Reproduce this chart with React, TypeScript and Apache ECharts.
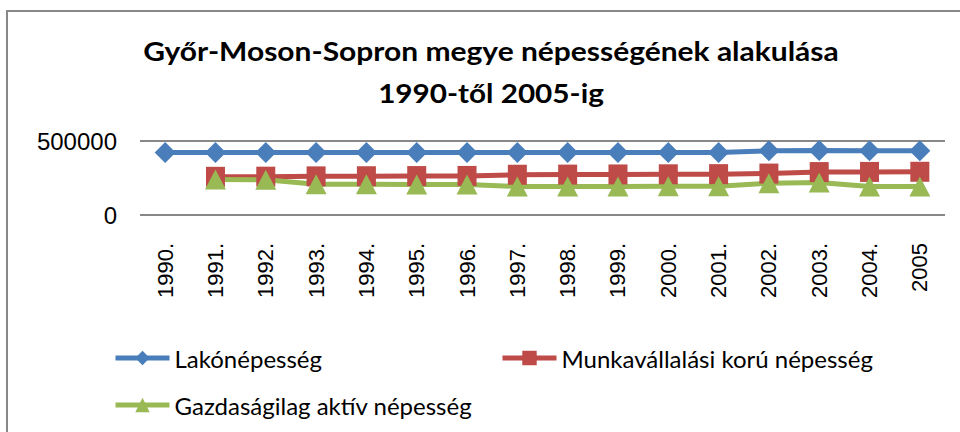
import React, { useEffect, useRef } from "react";
import * as echarts from "echarts";

const categories = ["1990.", "1991.", "1992.", "1993.", "1994.", "1995.", "1996.", "1997.", "1998.", "1999.", "2000.", "2001.", "2002.", "2003.", "2004.", "2005"];
const lakonepesseg = [422000, 422000, 422000, 422000, 422000, 422000, 422000, 422000, 422000, 422000, 422000, 422000, 434000, 435000, 434000, 434000];
const munkavallalasi = [null, 258000, 259000, 261000, 262000, 263000, 264000, 272000, 273000, 274000, 275000, 276000, 280000, 290000, 291000, 292000];
const gazdasagilag = [null, 240000, 238000, 208000, 207000, 206000, 206000, 193000, 192000, 193000, 194000, 194000, 215000, 220000, 193000, 193000];
const seriesNames = ["Lakónépesség", "Munkavállalási korú népesség", "Gazdaságilag aktív népesség"];
const yTicks = [0, 500000];
const titleLines = ["Győr-Moson-Sopron megye népességének alakulása", "1990-től 2005-ig"];

export default function App() {
  const ref = useRef<HTMLDivElement>(null);
  useEffect(() => {
    if (!ref.current) return;
    const chart = echarts.init(ref.current, null, { renderer: "svg" });
    const legendText = { fontFamily: "Lato", fontSize: 24, color: "#000" };
    const legendCommon = { itemWidth: 54, itemHeight: 18, itemGap: 6, textStyle: legendText, lineStyle: { width: 5 } };
    chart.setOption({
      animation: false,
      backgroundColor: "#fff",
      graphic: [
        { type: "rect", shape: { x: 7, y: 11, width: 1000, height: 1000 }, style: { fill: "none", stroke: "#888", lineWidth: 2 }, silent: true },
        { type: "text", x: 491, y: 51, scaleX: 1.11, style: { text: titleLines[0], font: "bold 27px Lato", fill: "#000", textAlign: "center", textVerticalAlign: "middle" } },
        { type: "text", x: 491, y: 93, scaleX: 1.1, style: { text: titleLines[1], font: "bold 27px Lato", fill: "#000", textAlign: "center", textVerticalAlign: "middle" } },
      ],
      grid: { left: 140, right: 15, top: 141, bottom: 217, containLabel: false },
      xAxis: {
        type: "category",
        data: categories,
        boundaryGap: true,
        axisLine: { show: false },
        axisTick: { show: false },
        axisLabel: { rotate: 90, margin: 28, fontFamily: "Liberation Sans", fontSize: 22, color: "#000" },
      },
      yAxis: {
        type: "value",
        min: yTicks[0],
        max: yTicks[1],
        interval: yTicks[1] - yTicks[0],
        axisLine: { show: false },
        axisTick: { show: false },
        splitLine: { lineStyle: { color: "#888", width: 2 } },
        axisLabel: { margin: 23, fontFamily: "Liberation Sans", fontSize: 24, color: "#000", formatter: (v: number) => String(v) },
      },
      legend: [
        { ...legendCommon, data: [seriesNames[0]], left: 108, top: 341 },
        { ...legendCommon, data: [seriesNames[1]], left: 495, top: 341 },
        { ...legendCommon, data: [seriesNames[2]], left: 108, top: 388 },
      ],
      series: [
        { name: seriesNames[0], type: "line", data: lakonepesseg, symbol: "diamond", symbolSize: 21, lineStyle: { width: 5, color: "#4A7EBB" }, itemStyle: { color: "#4A7EBB" } },
        { name: seriesNames[1], type: "line", data: munkavallalasi, symbol: "rect", symbolSize: [19, 20], lineStyle: { width: 5, color: "#BE4B48" }, itemStyle: { color: "#BE4B48" } },
        { name: seriesNames[2], type: "line", data: gazdasagilag, symbol: "triangle", symbolSize: [21, 20], lineStyle: { width: 5, color: "#98B954" }, itemStyle: { color: "#98B954" } },
      ],
    });
    return () => chart.dispose();
  }, []);
  return <div ref={ref} style={{ width: 960, height: 432, position: "absolute", left: 0, top: 0 }} />;
}
